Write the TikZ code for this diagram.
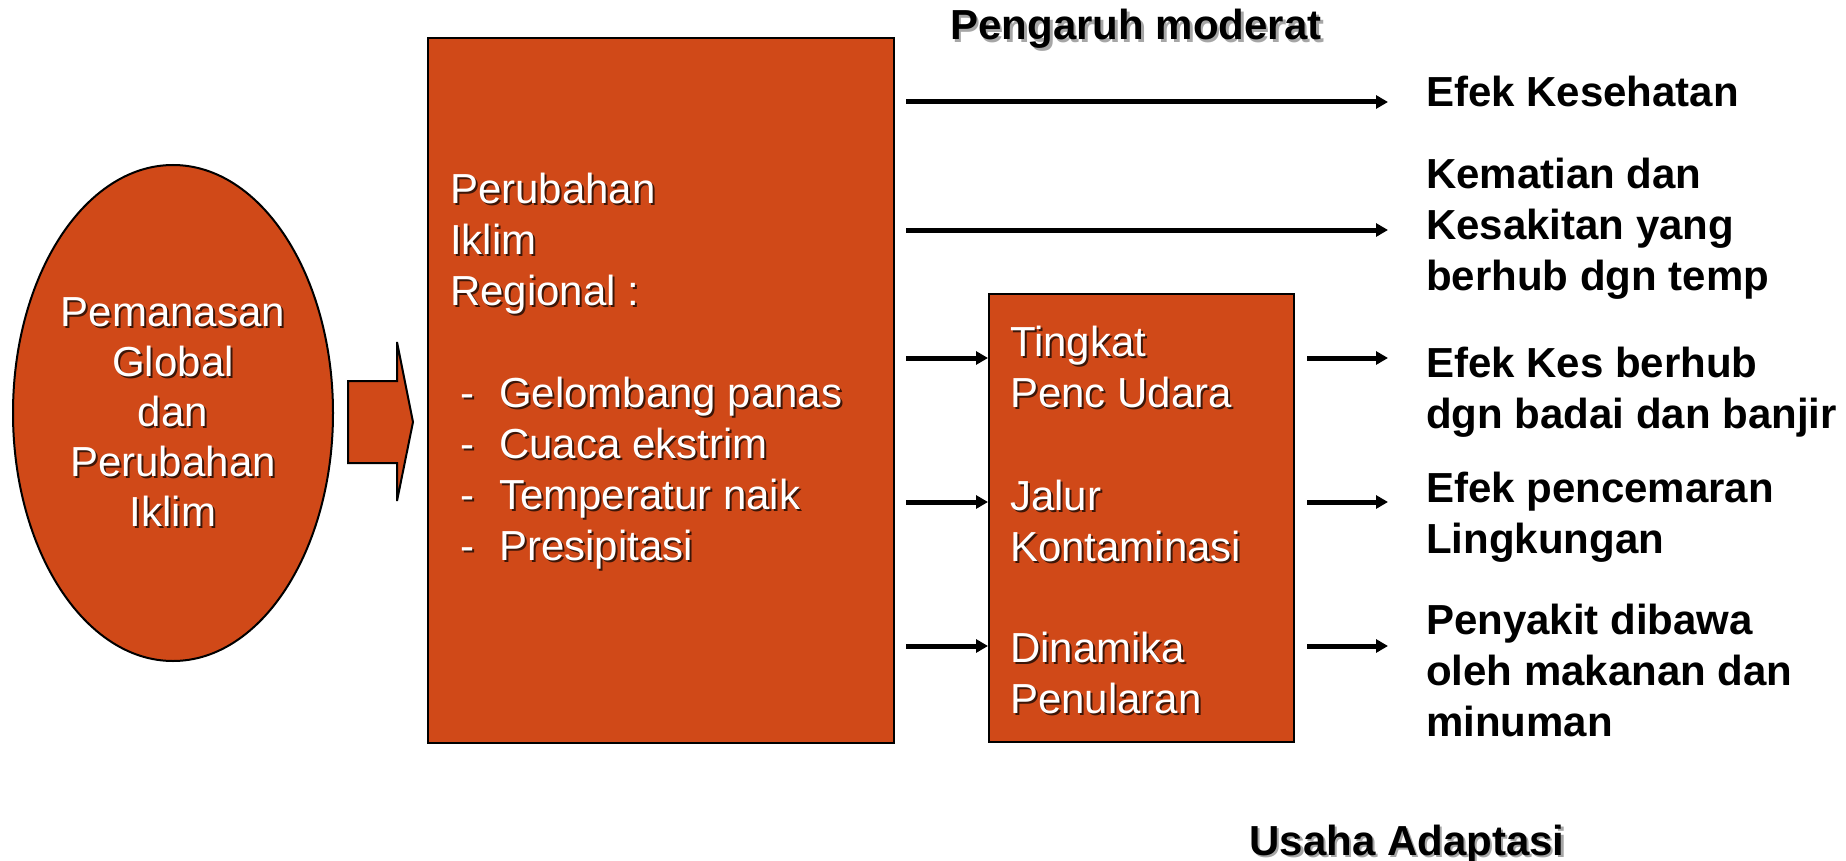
\documentclass[tikz,border=0pt]{standalone}
\usepackage{fontspec}
\setmainfont{Liberation Sans}
\usetikzlibrary{shapes.geometric,arrows.meta,calc}
\definecolor{fillc}{RGB}{208,73,24}
\definecolor{wshadow}{RGB}{60,22,8}
\newcommand\ws[1]{\makebox[0pt][l]{\kern2pt\raisebox{-2pt}{\textcolor{wshadow}{#1}}}\textcolor{white}{#1}}
\newcommand\bs[1]{\makebox[0pt][l]{\kern2.5pt\raisebox{-2.5pt}{\textcolor{black!35}{#1}}}#1}
\newcommand\bul[1]{\hspace*{10pt}\makebox[39pt][l]{\ws{-}}\ws{#1}}
\begin{document}
\begin{tikzpicture}[x=1pt,y=-1pt,
  box/.style={draw=black, line width=2pt, fill=fillc},
  wtext/.style={font=\fontsize{42}{51}\selectfont, text=white, align=left, inner sep=0pt, anchor=base west},
  btext/.style={font=\fontsize{42}{51}\selectfont\bfseries, align=left, inner sep=0pt, anchor=base west},
  conn/.style={line width=5pt, -{Triangle[length=12pt,width=13pt]}}
]
\useasboundingbox (0,0) rectangle (1846,861);

% left ellipse
\node[box, ellipse, minimum width=320pt, minimum height=496pt, inner sep=0pt,
      font=\fontsize{42}{50}\selectfont, align=center] (glob) at (173,413)
  {\ws{Pemanasan}\\ \ws{Global}\\ \ws{dan}\\ \ws{Perubahan}\\ \ws{Iklim}};

% block arrow
\draw[box] (348,381) -- (397,381) -- (397,342) -- (413,422) -- (397,501) -- (397,463) -- (348,463) -- cycle;

% regional change box (text anchored at the baseline of its last line)
\node[box, minimum width=466pt, minimum height=705pt, anchor=north west, inner sep=0pt] (reg) at (427,37) {};
\node[wtext] (regt) at (450,560)
  {\ws{Perubahan}\\ \ws{Iklim}\\ \ws{Regional :}\\[51pt]
   \bul{Gelombang panas}\\ \bul{Cuaca ekstrim}\\ \bul{Temperatur naik}\\ \bul{Presipitasi}};

% pathway box
\node[box, minimum width=305pt, minimum height=448pt, anchor=north west, inner sep=0pt] (path) at (988,293) {};
\node[wtext] (p1) at (1010,407) {\ws{Tingkat}\\ \ws{Penc Udara}};
\node[wtext] (p2) at (1010,561) {\ws{Jalur}\\ \ws{Kontaminasi}};
\node[wtext] (p3) at (1010,713) {\ws{Dinamika}\\ \ws{Penularan}};

% titles
\node[btext, anchor=base] (pm) at (1136,40) {\bs{Pengaruh moderat}};
\node[btext, anchor=base] (ua) at (1407,855) {\bs{Usaha Adaptasi}};

% effect labels (anchored at the baseline of the last line)
\node[btext] (e1) at (1426,107) {Efek Kesehatan};
\node[btext] (e2) at (1426,290) {Kematian dan\\Kesakitan yang\\berhub dgn temp};
\node[btext] (e3) at (1426,428) {Efek Kes berhub\\dgn badai dan banjir};
\node[btext] (e4) at (1426,553) {Efek pencemaran\\Lingkungan};
\node[btext] (e5) at (1426,736) {Penyakit dibawa\\oleh makanan dan\\minuman};

% connectors
\coordinate (t1s) at (906,102);  \coordinate (t1e) at (1388,102);
\coordinate (t2s) at (906,230);  \coordinate (t2e) at (1388,230);
\draw[conn] (t1s) -- (t1e);
\draw[conn] (t2s) -- (t2e);
\foreach \y [count=\i] in {358,502,646}{
  \coordinate (ls\i) at (906,\y);
  \coordinate (re\i) at (1388,\y);
  \draw[conn] (ls\i) -- (ls\i -| path.west);
  \draw[conn] ($(ls\i -| path.east)+(12,0)$) -- (re\i);
}
\end{tikzpicture}
\end{document}
